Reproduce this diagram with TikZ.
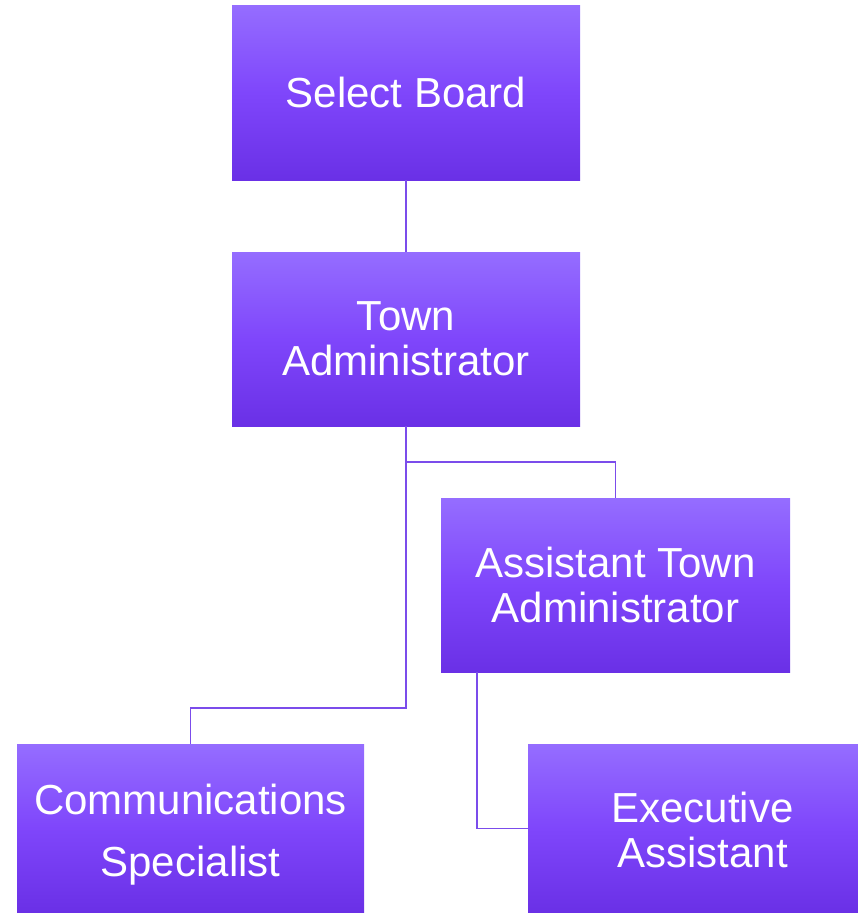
\documentclass[tikz,border=0pt]{standalone}
\usepackage{fontspec}
\setmainfont{Liberation Sans}
\definecolor{gtop}{HTML}{956DFF}
\definecolor{gmid}{HTML}{7F46FB}
\definecolor{gbot}{HTML}{6A30E6}
\definecolor{lnk}{HTML}{7B4CEB}
\tikzset{
  orgbox/.style={rectangle, inner sep=0pt, top color=gtop, bottom color=gbot, middle color=gmid,
    text=white, align=center, font=\fontsize{42}{45}\selectfont},
  link/.style={draw=lnk, line width=1.6pt}
}
\begin{document}
\begin{tikzpicture}[x=1pt,y=-1pt]
\useasboundingbox (0,0) rectangle (858,913);
\node[orgbox, minimum width=348pt, minimum height=175pt] (sb) at (406,92.5) {Select Board};
\node[orgbox, minimum width=348pt, minimum height=174pt] (ta) at (406,339) {Town\\Administrator};
\node[orgbox, minimum width=349pt, minimum height=174pt] (ata) at (615.5,585) {Assistant Town\\Administrator};
\node[orgbox, minimum width=347pt, minimum height=168pt, text height=105pt, font=\fontsize{42}{62}\selectfont] (cs) at (190.5,828) {Communications\\Specialist};
\node[orgbox, minimum width=330pt, minimum height=169pt, text height=78pt] (ea) at (693,828.5) {\hspace*{19pt}Executive\\\hspace*{19pt}Assistant};
\draw[link] (sb.south) -- (ta.north);
\draw[link] (ta.south) -- ++(0,36) -| (ata.north);
\draw[link] (ta.south) -- ++(0,282) -| (cs.north);
\draw[link] ([xshift=-138.5pt]ata.south) |- (ea.west);
\end{tikzpicture}
\end{document}
